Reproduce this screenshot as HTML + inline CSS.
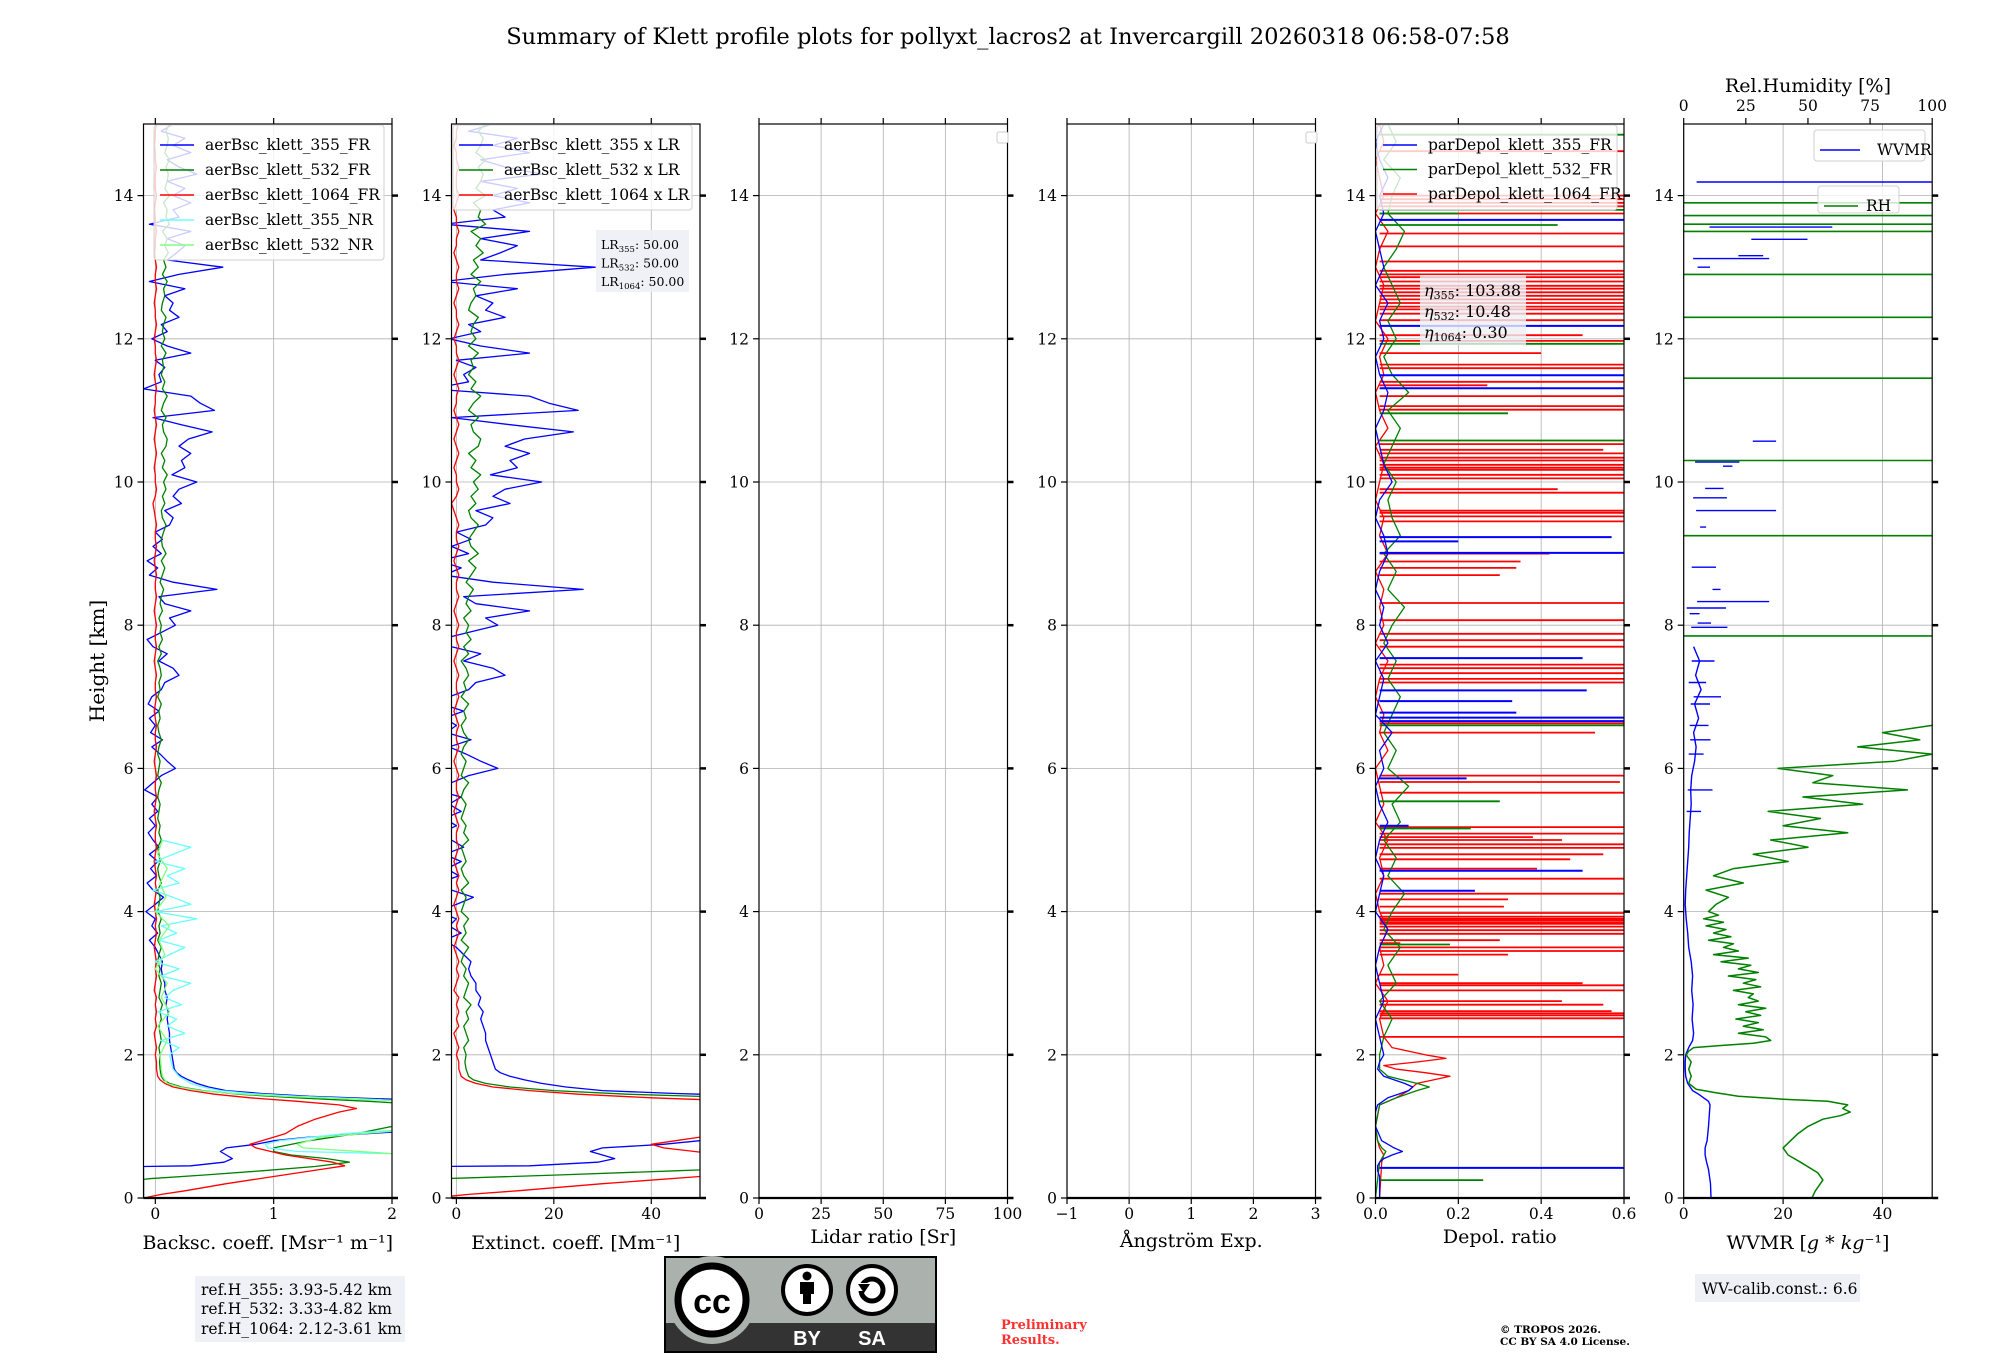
<!DOCTYPE html>
<html><head><meta charset="utf-8"><title>Klett profile summary</title>
<style>
html,body{margin:0;padding:0;background:#fff;}
svg{display:block;font-family:"DejaVu Serif","Liberation Serif",serif;}
</style></head>
<body>
<svg id="chart" width="2000" height="1360" viewBox="0 0 2000 1360" xmlns="http://www.w3.org/2000/svg">
<rect width="2000" height="1360" fill="#fff"/>
<text x="1008" y="44" font-size="22.6" text-anchor="middle">Summary of Klett profile plots for pollyxt_lacros2 at Invercargill 20260318 06:58-07:58</text>
<text transform="translate(104,661) rotate(-90)" font-size="20" text-anchor="middle">Height [km]</text>
<g id="plots"></g>
<g id="overlays"></g>
<rect x="195" y="1276" width="210" height="66" fill="#eef0f5" opacity="0.9"/>
<text x="201" y="1295" font-size="15.5">ref.H_355: 3.93-5.42 km</text>
<text x="201" y="1314" font-size="15.5">ref.H_532: 3.33-4.82 km</text>
<text x="201" y="1334" font-size="15.5">ref.H_1064: 2.12-3.61 km</text>
<g>
<rect x="665" y="1257" width="271" height="95" fill="#abb1ad" stroke="#000" stroke-width="2"/>
<rect x="666" y="1323" width="269" height="28" fill="#333"/>
<circle cx="712" cy="1300" r="44" fill="#abb1ad"/>
<circle cx="712" cy="1300" r="34" fill="#fff" stroke="#000" stroke-width="7"/>
<text x="712" y="1313" font-family="Liberation Sans,sans-serif" font-weight="bold" font-size="34" text-anchor="middle">cc</text>
<circle cx="807" cy="1290" r="24" fill="#fff" stroke="#000" stroke-width="4"/>
<circle cx="807" cy="1276" r="4.5" fill="#000"/>
<rect x="800" y="1282" width="14" height="12" fill="#000"/><rect x="803" y="1292" width="8" height="12" fill="#000"/>
<circle cx="872" cy="1290" r="24" fill="#fff" stroke="#000" stroke-width="4"/>
<circle cx="872" cy="1290" r="11" fill="none" stroke="#000" stroke-width="5"/>
<rect x="858" y="1283" width="9" height="8" fill="#fff"/>
<polygon points="858,1284 870,1284 864,1293" fill="#000"/>
<text x="807" y="1345" font-family="Liberation Sans,sans-serif" font-weight="bold" font-size="20" fill="#fff" text-anchor="middle">BY</text>
<text x="872" y="1345" font-family="Liberation Sans,sans-serif" font-weight="bold" font-size="20" fill="#fff" text-anchor="middle">SA</text>
</g>
<text x="1001" y="1329" font-size="13" font-weight="bold" fill="#ff3030">Preliminary</text>
<text x="1001" y="1344" font-size="13" font-weight="bold" fill="#ff3030">Results.</text>
<text x="1500" y="1333" font-size="10.5" font-weight="bold">© TROPOS 2026.</text>
<text x="1500" y="1345" font-size="10.5" font-weight="bold">CC BY SA 4.0 License.</text>
<rect x="1695" y="1274" width="165" height="28" fill="#eef0f5"/>
<text x="1702" y="1294" font-size="15.5">WV-calib.const.: 6.6</text>
</svg>
<script>
// ---------------- data ----------------
const gridStart = 1.9, gridStep = 0.1;
const b355LowH = [0.0,0.44,0.45,0.5,0.55,0.6,0.65,0.7,0.75,0.8,0.85,0.9,0.95,1.0,1.2,1.33,1.38,1.42,1.46,1.5,1.55,1.6,1.65,1.7,1.75,1.8];
const b355LowV = [-0.1,-0.1,0.3,0.58,0.65,0.6,0.55,0.6,0.85,1.0,1.3,1.8,2.3,2.5,2.5,2.3,2.0,1.3,0.9,0.6,0.45,0.35,0.28,0.22,0.18,0.16];
const b355Up = [0.15,0.14,0.13,0.12,0.12,0.11,0.10,0.11,0.09,0.1,0.08,0.08,0.06,0.05,0.06,0.03,0.0,-0.05,0.02,-0.03,0.0,-0.08,0.0,0.07,-0.02,-0.07,0.01,-0.04,0.02,-0.05,0.03,-0.02,-0.06,0.0,-0.05,0.02,-0.03,0.02,-0.09,-0.02,0.05,0.17,0.1,0.04,-0.03,0.06,-0.04,0.0,-0.05,0.03,-0.06,-0.03,0.05,0.08,0.2,0.15,0.03,0.1,-0.02,-0.07,0.05,0.17,0.12,0.3,0.08,0.03,0.52,0.15,-0.05,0.02,-0.07,0.05,-0.02,0.06,0.0,0.12,0.15,0.08,0.22,0.15,0.2,0.35,0.14,0.25,0.22,0.3,0.2,0.28,0.48,0.22,-0.02,0.5,0.38,0.3,-0.1,0.05,0.03,0.08,0.0,0.3,0.1,-0.03,0.1,0.05,0.2,0.12,0.15,0.08,0.25,-0.05,0.2,0.57,0.1,0.18,0.25,0.1,0.3,-0.05,0.2,0.15,0.3,0.15,0.25,0.1,0.35,0.2,0.1,0.3,0.15,0.25,0.05,0.15];
const b532LowH = [0,0.26,0.27,0.32,0.38,0.44,0.5,0.55,0.6,0.65,0.7,0.8,0.9,1.0,1.05,1.3,1.35,1.4,1.45,1.5,1.55,1.6,1.65,1.7,1.8];
const b532LowV = [-0.1,-0.1,-0.05,0.4,0.9,1.35,1.64,1.45,1.15,1.0,1.0,1.3,1.7,2.0,2.3,2.3,1.8,1.2,0.7,0.4,0.22,0.12,0.07,0.05,0.04];
const b532Up = [0.035,0.04,0.03,0.05,0.04,0.03,0.05,0.04,0.06,0.03,0.04,0.05,0.03,0.04,0.02,0.03,0.05,0.02,0.04,0.03,0.05,0.02,0.03,0.04,0.02,0.05,0.03,0.02,0.04,0.03,0.02,0.05,0.03,0.04,0.02,0.03,0.04,0.02,0.03,0.05,0.02,0.03,0.04,0.02,0.03,0.05,0.03,0.02,0.04,0.03,0.05,0.02,0.04,0.03,0.05,0.04,0.02,0.05,0.03,0.06,0.04,0.05,0.03,0.06,0.04,0.05,0.07,0.04,0.06,0.08,0.05,0.09,0.06,0.05,0.07,0.09,0.06,0.05,0.08,0.06,0.09,0.07,0.1,0.06,0.08,0.05,0.09,0.1,0.07,0.06,0.09,0.05,0.07,0.1,0.06,0.08,0.05,0.07,0.06,0.09,0.05,0.08,0.06,0.07,0.09,0.05,0.06,0.08,0.07,0.1,0.06,0.09,0.07,0.11,0.08,0.1,0.06,0.12,0.09,0.1,0.07,0.12,0.08,0.1,0.11,0.09,0.12,0.08,0.1,0.11,0.09,0.12];
const b1064LowH = [0,0.05,0.1,0.2,0.3,0.4,0.45,0.5,0.6,0.7,0.75,0.8,0.9,1.0,1.1,1.2,1.25,1.3,1.35,1.4,1.45,1.5,1.55,1.6,1.65,1.7,1.8];
const b1064LowV = [-0.1,0.05,0.25,0.6,1.0,1.4,1.6,1.5,1.1,0.85,0.8,0.9,1.1,1.2,1.35,1.55,1.7,1.55,1.2,0.8,0.5,0.3,0.15,0.08,0.04,0.02,0.01];
const b1064Up = [0.01,0.0,0.01,0.0,-0.01,0.01,0.0,0.01,0.0,0.01,-0.01,0.0,0.01,0.0,0.01,0.0,-0.01,0.0,0.01,0.0,0.01,0.0,-0.01,0.0,0.01,0.0,0.01,0.0,-0.01,0.0,0.01,0.0,0.0,0.01,0.0,-0.01,0.0,0.01,0.0,0.0,0.01,0.0,-0.01,0.0,0.01,0.0,0.0,0.01,0.0,-0.01,0.0,0.01,0.0,0.0,0.01,0.0,-0.01,0.0,0.01,0.0,0.0,0.01,0.0,-0.01,0.0,0.01,0.0,0.0,0.01,0.0,-0.01,0.0,0.01,0.0,0.0,0.01,0.0,-0.01,-0.02,0.0,0.01,0.0,0.0,-0.01,0.0,0.01,0.0,-0.01,0.0,0.01,0.0,-0.01,0.0,0.0,0.01,0.0,-0.01,0.0,0.01,0.0,0.0,-0.01,0.0,0.01,0.0,0.0,-0.01,0.0,0.01,0.0,0.0,0.01,0.0,-0.01,0.0,0.0,0.01,0.0,0.0,-0.01,0.0,0.01,0.0,0.0,0.0,0.01,0.0,0.0,-0.01,0.0,0.0,0.01];
const n355H = [0,0.05,0.08,0.6,0.65,0.7,0.75,0.8,0.9,1.0,1.33,1.38,1.42,1.46,1.5,1.55,1.6,1.7,1.8,2.0,2.1,2.2,2.3,2.4,2.5,2.6,2.7,2.8,2.9,3.0,3.1,3.2,3.3,3.4,3.5,3.6,3.7,3.8,3.9,4.0,4.1,4.2,4.3,4.4,4.5,4.6,4.7,4.8,4.9,5.0];
const n355V = [2.5,2.5,2.5,2.5,1.2,0.95,0.93,1.05,1.6,2.5,2.5,1.8,1.2,0.8,0.55,0.4,0.3,0.2,0.15,0.12,0.2,0.05,0.25,0.1,0.18,0.02,0.22,0.08,0.15,0.3,0.05,0.2,0.0,0.12,0.25,0.03,0.18,0.05,0.35,0.0,0.3,0.15,-0.02,0.2,0.1,0.25,0.0,0.15,0.3,0.05];
const n532H = [0,0.05,0.08,0.6,0.62,0.7,0.75,0.85,1.0,1.33,1.38,1.42,1.46,1.5,1.55,1.6,1.7,1.8,2.0,2.2,2.4,2.6,2.8,3.0,3.2,3.4,3.6,3.8,4.0,4.2,4.4,4.6,4.8,5.0];
const n532V = [2.5,2.5,2.5,2.5,2.0,1.25,1.2,1.4,2.5,2.5,1.7,1.1,0.65,0.38,0.2,0.1,0.06,0.05,0.04,0.1,0.02,0.12,0.05,0.1,0.0,0.08,0.03,0.12,0.0,0.09,0.04,0.1,0.02,0.06];
const lidarRatios = [50, 50, 50];
const etaValues = ['103.88', '10.48', '0.30'];

const dGridStart = 2.25, dGridStep = 0.25;
const dBlueLowH = [0,0.3,0.38,0.45,0.5,0.55,0.6,0.65,0.7,0.8,1.0,1.2,1.3,1.4,1.5,1.55,1.6,1.7,1.8,1.9,2.0];
const dBlueLowV = [0.01,0.01,0.005,0.005,0.01,0.02,0.04,0.065,0.045,0.015,0.0,0.0,0.005,0.03,0.08,0.09,0.07,0.02,0.005,0.01,0.02];
const dGreenLowH = [0,0.5,0.6,0.65,0.7,0.8,1.0,1.3,1.4,1.5,1.55,1.6,1.7,1.8,2.0];
const dGreenLowV = [0.0,0.01,0.02,0.025,0.015,0.005,0.0,0.01,0.05,0.1,0.13,0.1,0.03,0.01,0.01];
const dRedLowH = [0,0.5,0.6,0.7,0.8,1.0,1.3,1.4,1.5,1.6,1.65,1.7,1.75,1.8,1.85,1.9,1.95,2.0,2.1];
const dRedLowV = [0.01,0.015,0.02,0.01,0.005,0.0,0.01,0.05,0.08,0.1,0.14,0.18,0.12,0.05,0.02,0.1,0.17,0.12,0.04];
const dBlueUp = [0.01,0.0,0.02,0.01,0.0,0.01,0.03,0.0,0.01,0.02,0.0,0.01,0.03,0.01,0.0,0.02,0.01,0.04,0.0,0.01,0.02,0.0,0.03,0.01,0.02,0.0,0.01,0.03,0.02,0.0,0.01,0.04,0.02,0.01,0.0,0.02,0.03,0.01,0.0,0.02,0.01,0.03,0.0,0.02,0.01,0.0,0.02,0.01,0.03,0.01,0.0,0.02];
const dGreenUp = [0.02,0.04,0.01,0.05,0.03,0.06,0.02,0.04,0.07,0.03,0.05,0.02,0.06,0.04,0.08,0.03,0.05,0.02,0.04,0.06,0.03,0.05,0.02,0.04,0.07,0.03,0.05,0.02,0.06,0.04,0.03,0.05,0.02,0.04,0.06,0.03,0.08,0.04,0.02,0.05,0.03,0.06,0.04,0.02,0.05,0.07,0.03,0.04,0.06,0.02,0.05,0.03];
const dRedUp = [0.02,0.01,0.03,0.0,0.02,0.01,0.03,0.01,0.0,0.02,0.01,0.03,0.0,0.02,0.01,0.0,0.03,0.01,0.02,0.0,0.01,0.03,0.0,0.02,0.01,0.02,0.0,0.03,0.01,0.02,0.0,0.01,0.02,0.0,0.03,0.01,0.0,0.02,0.01,0.03,0.0,0.01,0.02,0.0,0.01,0.03,0.0,0.02,0.01,0.0,0.02,0.01];
const redSpikeH = [14.62,13.95,13.85,13.47,13.29,13.08,12.86,12.80,12.74,12.60,12.50,12.41,12.26,11.97,11.64,11.59,11.40,11.06,11.01,10.53,10.34,10.24,10.17,10.10,9.85,9.57,9.52,8.31,8.07,7.88,7.79,7.40,7.33,7.25,6.63,6.50,5.81,5.66,5.18,5.09,4.94,4.89,4.73,4.46,4.25,3.98,3.93,3.88,3.83,3.79,3.74,3.69,3.50,2.97,2.90,2.61,2.58,2.51,2.25,11.35,9.90,9.0,8.89,8.80,5.04,4.6,4.17,4.07,3.40,3.12,3.56,2.75,10.45,12.95,12.9,12.7,12.65,12.55,12.45,12.35,12.05,11.8,11.2,10.4,10.3,10.2,10.05,9.6,9.45,8.7,7.7,7.45,7.2,5.9,5.0,4.8,3.9,3.85,3.6,3.45,3.0,2.7,2.55,14.0,13.9,13.75];
const redSpikeV = [0.65,0.65,0.65,0.65,0.65,0.65,0.65,0.65,0.65,0.65,0.65,0.65,0.65,0.65,0.65,0.65,0.65,0.65,0.65,0.65,0.65,0.65,0.65,0.65,0.65,0.65,0.65,0.65,0.65,0.65,0.65,0.65,0.65,0.65,0.65,0.53,0.59,0.65,0.65,0.65,0.65,0.65,0.47,0.65,0.65,0.65,0.65,0.65,0.65,0.65,0.65,0.65,0.65,0.65,0.65,0.57,0.65,0.65,0.65,0.27,0.44,0.42,0.35,0.34,0.38,0.39,0.32,0.31,0.32,0.2,0.06,0.45,0.55,0.65,0.65,0.65,0.65,0.65,0.65,0.65,0.5,0.4,0.65,0.65,0.65,0.65,0.6,0.65,0.65,0.3,0.65,0.65,0.65,0.65,0.45,0.55,0.65,0.65,0.3,0.65,0.5,0.55,0.65,0.65,0.65,0.65];
const blueSpikeH = [13.66,12.18,11.49,11.31,9.23,9.01,7.54,7.09,6.94,6.78,6.71,6.66,5.86,4.57,4.29,0.42,9.17,5.2];
const blueSpikeV = [0.65,0.65,0.65,0.65,0.57,0.65,0.5,0.51,0.33,0.34,0.65,0.65,0.22,0.5,0.24,0.65,0.2,0.08];
const greenSpikeH = [14.85,13.80,13.59,11.93,10.96,10.58,6.6,5.54,5.16,3.54,0.25,13.75];
const greenSpikeV = [0.65,0.65,0.44,0.65,0.32,0.65,0.65,0.3,0.23,0.18,0.26,0.2];

const wvH = [0,0.2,0.4,0.5,0.6,0.7,0.8,1.0,1.2,1.3,1.35,1.4,1.45,1.5,1.6,1.7,1.8,1.9,2.0,2.1,2.2,2.3,2.5,2.7,2.9,3.1,3.3,3.5,3.7,3.9,4.1,4.3,4.5,4.7,4.9,5.1,5.3,5.5,5.7,5.9,6.1,6.3,6.5,6.7,6.9,7.1,7.3,7.5,7.7];
const wvV = [5.5,5.4,5.0,4.6,4.3,4.3,4.7,5.0,5.2,5.3,5.0,4.0,3.0,1.8,0.8,0.4,0.3,0.3,0.4,1.0,1.8,2.0,1.7,1.9,1.6,1.8,1.5,1.0,0.8,0.5,0.3,0.4,0.6,0.8,1.0,1.1,1.3,1.5,1.4,1.6,2.2,2.5,2.0,3.0,2.2,3.5,2.4,3.2,2.0];
const wvSegH = [14.19,13.56,13.39,13.16,13.12,13.0,10.57,10.28,10.22,9.91,9.78,9.6,9.37,8.81,8.5,8.33,8.24,8.16,8.03,7.97,7.5,7.2,7.0,6.9,6.6,6.4,6.2,5.7,5.4];
const wvSegA = [2.6,5.2,13.6,11,1.9,2.8,13.9,2.3,7.9,4.3,1.9,2.5,3.3,1.6,5.8,2.7,0.6,1.2,2.8,1.5,1.6,1.0,2.0,1.4,1.2,1.3,1.0,0.8,0.6];
const wvSegB = [50,29.9,24.9,16,17.2,5.3,18.6,11.2,9.8,8.0,8.7,18.6,4.5,6.5,7.4,17.2,8.5,3.2,5.5,8.8,6.2,4.5,7.5,5.3,5.0,5.4,4.0,5.8,3.5];
const rhH = [0,0.1,0.25,0.35,0.5,0.6,0.7,0.8,0.9,1.0,1.1,1.15,1.2,1.25,1.3,1.35,1.38,1.42,1.47,1.52,1.6,1.7,1.8,1.9,2.0,2.05,2.1,2.13,2.16,2.2,2.25,2.3,2.35,2.4,2.45,2.5,2.55,2.6,2.65,2.7,2.75,2.8,2.85,2.9,2.95,3.0,3.05,3.1,3.15,3.2,3.25,3.3,3.35,3.4,3.45,3.5,3.55,3.6,3.65,3.7,3.75,3.8,3.85,3.9,3.95,4.0,4.1,4.2,4.3,4.4,4.5,4.6,4.7,4.8,4.9,5.0,5.1,5.2,5.3,5.4,5.5,5.6,5.7,5.8,5.9,6.0,6.1,6.2,6.3,6.4,6.5,6.6];
const rhV = [51.6,53,56,54,47,42,40,43,46,50,56,63,67,64,66,58,40,22,13,5,2,3,2,3,1,2,4,15,28,35,33,22,32,24,30,21,31,25,33,22,30,26,28,20,31,24,29,18,30,22,27,15,26,12,22,16,20,10,19,12,17,9,16,8,14,10,13,18,9,24,12,20,42,28,50,35,66,40,55,34,72,48,90,52,60,38,85,100,70,95,80,100];
const rhLineH = [7.85,9.25,10.3,11.45,12.3,12.9,13.5,13.6,13.72,13.9];

// ---------------- layout ----------------
const NS = 'http://www.w3.org/2000/svg';
const Y0 = 1198, KM = 71.6, W = 248.5, TOP = Y0 - 15 * KM;
const panels = [
  {x:143.5, min:-0.1, max:2, ticks:[0,1,2], tl:['0','1','2'], label:'Backsc. coeff. [Msr⁻¹ m⁻¹]', ly:1249, name:'backscatter'},
  {x:451.5, min:-1, max:50, ticks:[0,20,40], tl:['0','20','40'], label:'Extinct. coeff. [Mm⁻¹]', ly:1249, name:'extinction'},
  {x:759, min:0, max:100, ticks:[0,25,50,75,100], tl:['0','25','50','75','100'], label:'Lidar ratio [Sr]', ly:1243, name:'lidar-ratio'},
  {x:1067, min:-1, max:3, ticks:[-1,0,1,2,3], tl:['−1','0','1','2','3'], label:'Ångström Exp.', ly:1247, name:'angstrom'},
  {x:1375.5, min:0, max:0.6, ticks:[0,0.2,0.4,0.6], tl:['0.0','0.2','0.4','0.6'], label:'Depol. ratio', ly:1243, name:'depol'},
  {x:1683.7, min:0, max:50, ticks:[0,20,40], tl:['0','20','40'], label:'WVMR [g*kg⁻¹]', ly:1249, name:'wvmr'}
];
const yS = h => Y0 - h * KM;
const xS = (p, v) => p.x + (v - p.min) / (p.max - p.min) * W;
const root = document.getElementById('plots');
const over = document.getElementById('overlays');
function mk(tag, attrs, parent) {
  const e = document.createElementNS(NS, tag);
  for (const k in attrs) e.setAttribute(k, attrs[k]);
  (parent || root).appendChild(e);
  return e;
}
function gridH(start, step, n) { const a = []; for (let i = 0; i < n; i++) a.push(+(start + i * step).toFixed(3)); return a; }

panels.forEach((p, i) => {
  const g = mk('g', {});
  
  
  p.g = g;
  const cp = mk('clipPath', {id: 'clip' + i}, g);
  mk('rect', {x: p.x, y: TOP, width: W, height: Y0 - TOP}, cp);
  p.ticks.forEach(t => {
    const gl = mk('line', {x1: xS(p, t), x2: xS(p, t), y1: TOP, y2: Y0, stroke: '#b0b0b0', 'stroke-width': 0.8}, g);
    
    
    const tk = mk('line', {x1: xS(p, t), x2: xS(p, t), y1: Y0, y2: Y0 + 6, stroke: '#000', 'stroke-width': 1.2}, g);
    
    
    if (i !== 5) {
      const tt = mk('line', {x1: xS(p, t), x2: xS(p, t), y1: TOP - 6, y2: TOP, stroke: '#000', 'stroke-width': 1.2}, g);
      
      
    }
  });
  p.ticks.forEach((t, k) => {
    const tl = mk('text', {x: xS(p, t), y: 1219, 'font-size': 15.5, 'text-anchor': 'middle'}, g);
    tl.textContent = p.tl[k];
    
    
  });
  for (let h = 0; h <= 14; h += 2) {
    const gl = mk('line', {x1: p.x, x2: p.x + W, y1: yS(h), y2: yS(h), stroke: '#b0b0b0', 'stroke-width': 0.8}, g);
    
    
    const t1 = mk('line', {x1: p.x - 6, x2: p.x, y1: yS(h), y2: yS(h), stroke: '#000', 'stroke-width': 1.2}, g);
    
    
    const t2 = mk('line', {x1: p.x + W, x2: p.x + W + 6, y1: yS(h), y2: yS(h), stroke: '#000', 'stroke-width': 2.5}, g);
    
    
    const yl = mk('text', {x: p.x - 10, y: yS(h) + 5.5, 'font-size': 15.5, 'text-anchor': 'end'}, g);
    yl.textContent = String(h);
    
    
  }
  const xl = mk('text', {x: p.x + W / 2, y: p.ly, 'font-size': 19, 'text-anchor': 'middle'}, g);
  if (p.name === 'wvmr') {
    xl.innerHTML = 'WVMR [<tspan font-style="italic">g</tspan> * <tspan font-style="italic">kg</tspan>⁻¹]';
  } else xl.textContent = p.label;
  
  
  p.data = mk('g', {'clip-path': 'url(#clip' + i + ')'}, g);
});

function series(p, H, V, color, name, w) {
  const d = H.map((h, k) => (k ? 'L' : 'M') + xS(p, V[k]).toFixed(1) + ' ' + yS(h).toFixed(1)).join('');
  const e = mk('path', {d: d, fill: 'none', stroke: color, 'stroke-width': w || 1.3, 'stroke-linejoin': 'round'}, p.data);
  
  
  return e;
}
function spikes(p, H, V, base, color, name, w) {
  const d = H.map((h, k) => 'M' + xS(p, base).toFixed(1) + ' ' + yS(h).toFixed(1) + 'H' + xS(p, V[k]).toFixed(1)).join('');
  const e = mk('path', {d: d, fill: 'none', stroke: color, 'stroke-width': w || 1.6}, p.data);
  
  
}

const upH = gridH(gridStart, gridStep, b355Up.length);
const B355H = b355LowH.concat(upH), B355V = b355LowV.concat(b355Up);
const B532H = b532LowH.concat(gridH(gridStart, gridStep, b532Up.length)), B532V = b532LowV.concat(b532Up);
const B1064H = b1064LowH.concat(gridH(gridStart, gridStep, b1064Up.length)), B1064V = b1064LowV.concat(b1064Up);

series(panels[0], B355H, B355V, '#0000ff', 'bsc-355-fr-line');
series(panels[0], B532H, B532V, '#008000', 'bsc-532-fr-line');
series(panels[0], B1064H, B1064V, '#ff0000', 'bsc-1064-fr-line');
series(panels[0], n355H, n355V, '#66ffff', 'bsc-355-nr-line');
series(panels[0], n532H, n532V, '#80ff80', 'bsc-532-nr-line');
series(panels[1], B355H, B355V.map(v => v * lidarRatios[0]), '#0000ff', 'ext-355-line');
series(panels[1], B532H, B532V.map(v => v * lidarRatios[1]), '#008000', 'ext-532-line');
series(panels[1], B1064H, B1064V.map(v => v * lidarRatios[2]), '#ff0000', 'ext-1064-line');
const dBH = dBlueLowH.concat(gridH(dGridStart, dGridStep, dBlueUp.length)), dBV = dBlueLowV.concat(dBlueUp);
const dGH = dGreenLowH.concat(gridH(dGridStart, dGridStep, dGreenUp.length)), dGV = dGreenLowV.concat(dGreenUp);
const dRH = dRedLowH.concat(gridH(dGridStart, dGridStep, dRedUp.length)), dRV = dRedLowV.concat(dRedUp);
spikes(panels[4], redSpikeH, redSpikeV, 0.01, '#ff0000', 'depol-1064-spikes', 1.8);
series(panels[4], dRH, dRV, '#ff0000', 'depol-1064-line');
spikes(panels[4], greenSpikeH, greenSpikeV, 0.01, '#008000', 'depol-532-spikes', 1.8);
series(panels[4], dGH, dGV, '#008000', 'depol-532-line');
spikes(panels[4], blueSpikeH, blueSpikeV, 0.01, '#0000ff', 'depol-355-spikes', 2);
series(panels[4], dBH, dBV, '#0000ff', 'depol-355-line');
const p6 = panels[5];
series(p6, wvH, wvV, '#0000ff', 'wvmr-line', 1.4);
const segD = wvSegH.map((h, k) => 'M' + xS(p6, wvSegA[k]).toFixed(1) + ' ' + yS(h).toFixed(1) + 'H' + xS(p6, wvSegB[k]).toFixed(1)).join('');
const seg = mk('path', {d: segD, stroke: '#0000ff', 'stroke-width': 1.4, fill: 'none'}, p6.data);


const rhP = {x: p6.x, min: 0, max: 100, data: p6.data};
series(rhP, rhH, rhV, '#008000', 'rh-line', 1.5);
const rhLD = rhLineH.map(h => 'M' + xS(rhP, 0) + ' ' + yS(h).toFixed(1) + 'H' + xS(rhP, 100)).join('');
const rhl = mk('path', {d: rhLD, stroke: '#008000', 'stroke-width': 1.6, fill: 'none'}, p6.data);


[0, 25, 50, 75, 100].forEach(t => {
  const tk = mk('line', {x1: xS(rhP, t), x2: xS(rhP, t), y1: TOP - 6, y2: TOP, stroke: '#000', 'stroke-width': 1.2}, p6.g);
  
  
  const tl = mk('text', {x: xS(rhP, t), y: 111, 'font-size': 15.5, 'text-anchor': 'middle'}, p6.g);
  tl.textContent = String(t);
  
  
});
const rht = mk('text', {x: p6.x + W / 2, y: 92, 'font-size': 19, 'text-anchor': 'middle'}, p6.g);
rht.textContent = 'Rel.Humidity [%]';



panels.forEach(p => {
  const f = mk('rect', {x: p.x, y: TOP, width: W, height: Y0 - TOP, fill: 'none', stroke: '#000', 'stroke-width': 1.2}, p.g);
  
  
  const bl = mk('line', {x1: p.x, x2: p.x + W, y1: Y0, y2: Y0, stroke: '#000', 'stroke-width': 2.2}, p.g);
  
  
});

function legend(x, y, w, h, items, name, step, lineW) {
  const g = mk('g', {}, over);
  
  
  mk('rect', {x: x, y: y, width: w, height: h, rx: 3, fill: '#fff', 'fill-opacity': 0.8, stroke: '#d0d0d0'}, g);
  items.forEach((it, k) => {
    const cy = y + 20 + k * step;
    const ln = mk('line', {x1: x + 6, x2: x + 6 + (lineW || 34), y1: cy, y2: cy, stroke: it[1], 'stroke-width': 1.6}, g);
    
    
    const t = mk('text', {x: x + (it[2] || 51), y: cy + 5, 'font-size': 15.5}, g);
    t.textContent = it[0];
    
    
  });
}
legend(154, 125, 230, 135, [['aerBsc_klett_355_FR', '#0000ff'], ['aerBsc_klett_532_FR', '#008000'], ['aerBsc_klett_1064_FR', '#ff0000'], ['aerBsc_klett_355_NR', '#66ffff'], ['aerBsc_klett_532_NR', '#80ff80']], 'backscatter-legend', 25);
legend(453, 125, 239, 85, [['aerBsc_klett_355 x LR', '#0000ff'], ['aerBsc_klett_532 x LR', '#008000'], ['aerBsc_klett_1064 x LR', '#ff0000']], 'extinction-legend', 25);
legend(1377, 125, 240, 85, [['parDepol_klett_355_FR', '#0000ff'], ['parDepol_klett_532_FR', '#008000'], ['parDepol_klett_1064_FR', '#ff0000']], 'depol-legend', 24.5);
legend(1814, 130, 111, 31, [['WVMR', '#0000ff', 63]], 'wvmr-legend', 0, 40);
legend(1818, 186, 81, 27, [['RH', '#008000', 48]], 'rh-legend', 0, 34);
[[997, 'lidar-ratio-empty-legend'], [1306, 'angstrom-empty-legend']].forEach(e => {
  const r = mk('rect', {x: e[0], y: 132, width: 11, height: 11, rx: 2, fill: '#fff', stroke: '#ccc'}, over);
  
  
});
const lrBox = mk('g', {}, over);


mk('rect', {x: 596, y: 230, width: 93, height: 62, fill: '#eef0f5', 'fill-opacity': 0.9}, lrBox);
['355', '532', '1064'].forEach((w, k) => {
  const t = mk('text', {x: 601, y: 249 + k * 18.5, 'font-size': 12.5}, lrBox);
  t.innerHTML = 'LR<tspan font-size="8.5" dy="3">' + w + '</tspan><tspan dy="-3">: ' + lidarRatios[k].toFixed(2) + '</tspan>';
  
  
});
const etaBox = mk('g', {}, over);


mk('rect', {x: 1420, y: 275, width: 106, height: 70, fill: '#eef0f5', 'fill-opacity': 0.8}, etaBox);
['355', '532', '1064'].forEach((w, k) => {
  const t = mk('text', {x: 1424, y: 296 + k * 21, 'font-size': 16}, etaBox);
  t.innerHTML = '<tspan font-style="italic">η</tspan><tspan font-size="11" dy="3">' + w + '</tspan><tspan dy="-3">: ' + etaValues[k] + '</tspan>';
  
  
});
</script>
</body></html>
